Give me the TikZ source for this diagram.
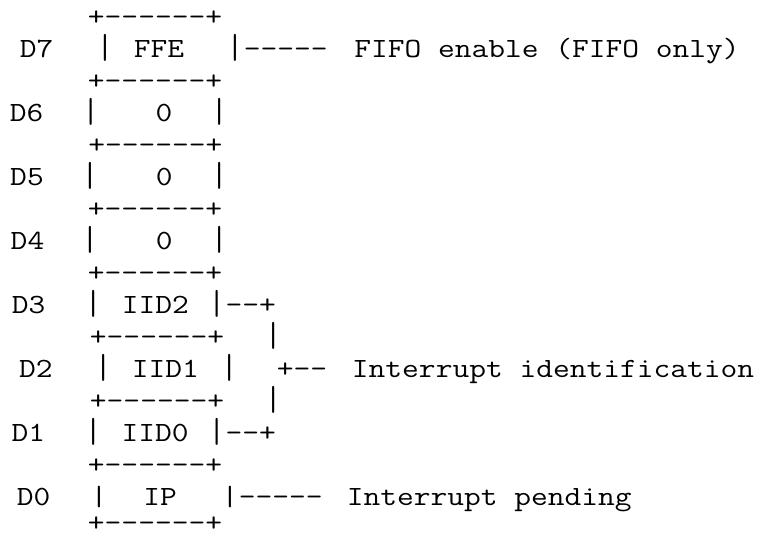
\documentclass[tikz,border=0pt]{standalone}
\usepackage{fontspec}
\newfontfamily\cour[FakeStretch=1.17]{Latin Modern Mono}
\tikzset{
  t/.style={font=\cour\fontsize{27.8}{32}\selectfont, inner sep=0pt, anchor=base, text=black},
  bar/.style={t, yscale=1.25, transform shape, yshift=-1.5pt},
}
\begin{document}
\begin{tikzpicture}[x=1pt,y=1pt]
\useasboundingbox[fill=white] (0,0) rectangle (762,-537);
% baselines: 25.1 + 32(i-1)
% line 1
\node[t] (r1) at (155,-25.1) {+------+};
% line 2 : D7
\node[t] (l7) at (36.7,-57.1) {D7};
\node[bar] (a7) at (105,-57.1) {|};
\node[t] (v7) at (159,-57.1) {FFE};
\node[bar] (b7) at (235,-57.1) {|};
\node[t, anchor=base west] (d7) at (243.6,-57.1) {-----};
\node[t] (n7) at (547,-57.1) {FIFO enable (FIFO only)};
% line 3
\node[t] (r2) at (155,-89.1) {+------+};
% line 4 : D6
\node[t] (l6) at (26.7,-121.1) {D6};
\node[bar] (a6) at (90.7,-121.1) {|};
\node[t] (v6) at (164,-121.1) {0};
\node[bar] (b6) at (219.3,-121.1) {|};
% line 5
\node[t] (r3) at (155.3,-153.1) {+------+};
% line 6 : D5
\node[t] (l5) at (27,-185.1) {D5};
\node[bar] (a5) at (90,-185.1) {|};
\node[t] (v5) at (164.3,-185.1) {0};
\node[bar] (b5) at (219.3,-185.1) {|};
% line 7
\node[t] (r4) at (155,-217.1) {+------+};
% line 8 : D4
\node[t] (l4) at (27.5,-249.1) {D4};
\node[bar] (a4) at (90,-249.1) {|};
\node[t] (v4) at (164.3,-249.1) {0};
\node[bar] (b4) at (219.3,-249.1) {|};
% line 9
\node[t] (r5) at (155,-281.1) {+------+};
% line 10 : D3
\node[t] (l3) at (28.7,-313.1) {D3};
\node[bar] (a3) at (93.3,-313.1) {|};
\node[t] (v3) at (155.3,-313.1) {IID2};
\node[bar] (b3) at (216.7,-313.1) {|};
\node[t, anchor=base west] (d3) at (225.3,-313.1) {--+};
% line 11
\node[t] (r6) at (157,-345.1) {+------+};
\node[bar] (c6) at (273.3,-345.1) {|};
% line 12 : D2
\node[t] (l2) at (35.8,-377.1) {D2};
\node[bar] (a2) at (103.3,-377.1) {|};
\node[t] (v2) at (165.3,-377.1) {IID1};
\node[bar] (b2) at (229.3,-377.1) {|};
\node[t] (p2) at (302.1,-377.1) {+--};
\node[t] (n2) at (553,-377.1) {Interrupt identification};
% line 13
\node[t] (r7) at (157,-409.1) {+------+};
\node[bar] (c7) at (273.3,-409.1) {|};
% line 14 : D1
\node[t] (l1) at (28.3,-441.1) {D1};
\node[bar] (a1) at (93.3,-441.1) {|};
\node[t] (v1) at (155,-441.1) {IID0};
\node[bar] (b1) at (216.7,-441.1) {|};
\node[t, anchor=base west] (d1) at (225.3,-441.1) {--+};
% line 15
\node[t] (r8) at (155,-473.1) {+------+};
% line 16 : D0
\node[t] (l0) at (33.7,-505.1) {D0};
\node[t] (a0) at (99,-505.1) {|};
\node[t] (v0) at (160,-505.1) {IP};
\node[t] (b0) at (230,-505.1) {|};
\node[t, anchor=base west] (d0) at (238.6,-505.1) {-----};
\node[t] (n0) at (489.2,-505.1) {Interrupt pending};
% line 17
\node[t] (r9) at (155,-531) {+------+};
\end{tikzpicture}
\end{document}
